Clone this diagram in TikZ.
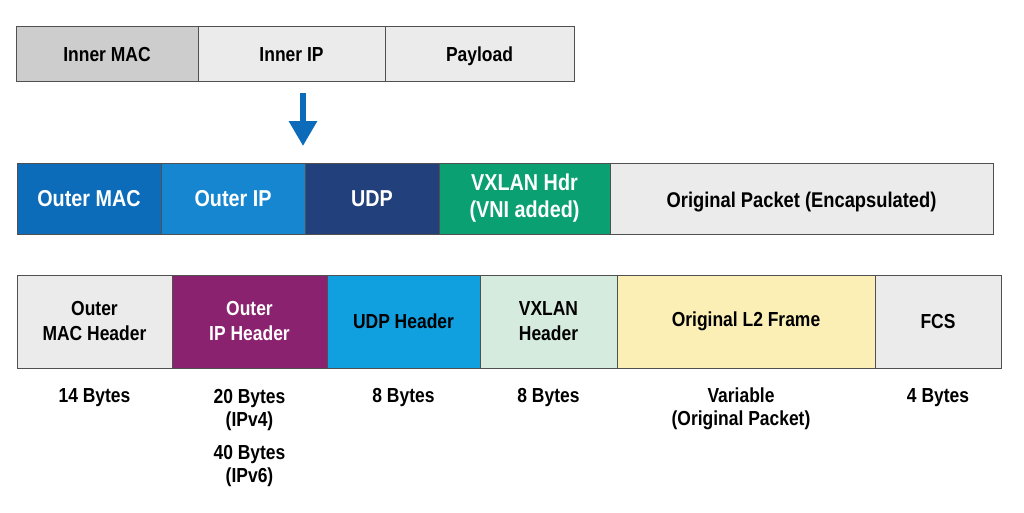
\documentclass[tikz,border=0pt]{standalone}
\usepackage{fontspec}
\setmainfont[FakeStretch=0.86]{Liberation Sans}
\usepackage{xcolor}
\usetikzlibrary{arrows.meta}

\definecolor{hdrgray}{HTML}{CDCDCD}
\definecolor{lightgray}{HTML}{EBEBEB}
\definecolor{macblue}{HTML}{0C6CB9}
\definecolor{ipblue}{HTML}{1786D1}
\definecolor{udpnavy}{HTML}{22407C}
\definecolor{vxgreen}{HTML}{0BA072}
\definecolor{ippurple}{HTML}{8A2270}
\definecolor{udpcyan}{HTML}{10A0E0}
\definecolor{vxmint}{HTML}{D5EBDE}
\definecolor{l2yellow}{HTML}{FBEFB6}
\definecolor{edgegray}{HTML}{505050}

\begin{document}
\begin{tikzpicture}[x=1pt,y=-1pt,font=\bfseries\fontsize{20.3}{25}\selectfont]
    \tikzset{field/.style={draw=edgegray, line width=0.9pt, inner sep=0pt, align=center, text=black},
             oneline/.style={text height=17pt, text depth=2pt},
             big/.style={font=\bfseries\fontsize{23}{27}\selectfont},
             size/.style={align=center, font=\bfseries\fontsize{20.3}{23.5}\selectfont}}
    \useasboundingbox (0,0) rectangle (1024,512);
    % original frame
	\node [field, oneline, fill=hdrgray, minimum width=182, minimum height=55] (innermac) at (107, 53.5) {Inner MAC};
	\node [field, oneline, fill=lightgray, minimum width=187, minimum height=55] (innerip) at (291.5, 53.5) {Inner IP};
	\node [field, oneline, fill=lightgray, minimum width=189, minimum height=55] (payload) at (479.5, 53.5) {Payload};
	\coordinate (arrtop) at (303, 93);
	\coordinate (arrbot) at (303, 146);
	\draw [-{Triangle[length=25pt,width=27pt]}, line width=6pt, macblue] (arrtop) -- (arrbot);
	% encapsulated frame
	\node [field, big, fill=macblue, text=white, minimum width=144, minimum height=71] (outermac) at (89, 198.5) {Outer MAC};
	\node [field, big, fill=ipblue, text=white, minimum width=144, minimum height=71] (outerip) at (233, 198.5) {Outer IP};
	\node [field, big, fill=udpnavy, text=white, minimum width=134, minimum height=71] (udp) at (372, 198.5) {UDP};
	\node [field, big, fill=vxgreen, text=white, minimum width=171, minimum height=71] (vxlan) at (524.5, 198.5) {VXLAN Hdr\\(VNI added)};
	\node [field, oneline, text height=19pt, fill=lightgray, minimum width=383, minimum height=71, font=\bfseries\fontsize{21.3}{25}\selectfont] (origpkt) at (801.5, 198.5) {Original Packet (Encapsulated)};
	% header sizes
	\node [field, fill=lightgray, minimum width=155, minimum height=93] (machdr) at (94.5, 321.5) {Outer\\MAC Header};
	\node [field, fill=ippurple, text=white, minimum width=155, minimum height=93] (iphdr) at (249.5, 321.5) {Outer\\IP Header};
	\node [field, fill=udpcyan, minimum width=153, minimum height=93] (udphdr) at (403.5, 321.5) {UDP Header};
	\node [field, fill=vxmint, minimum width=137, minimum height=93] (vxhdr) at (548.5, 321.5) {VXLAN\\Header};
	\node [field, fill=l2yellow, minimum width=258, minimum height=93] (l2frame) at (746, 321.5) {Original L2 Frame};
	\node [field, fill=lightgray, minimum width=126, minimum height=93] (fcs) at (938, 321.5) {FCS};
	\node [size] (macsz) at (94.5, 398) {14 Bytes};
	\node [size] (ipsz) at (249.5, 410) {20 Bytes\\(IPv4)};
	\node [size] (ipsix) at (249.5, 466) {40 Bytes\\(IPv6)};
	\node [size] (udpsz) at (403.5, 398) {8 Bytes};
	\node [size] (vxsz) at (548.5, 398) {8 Bytes};
	\node [size] (l2sz) at (741, 409) {Variable\\(Original Packet)};
	\node [size] (fcssz) at (938, 398) {4 Bytes};
	\end{tikzpicture}
\end{document}
